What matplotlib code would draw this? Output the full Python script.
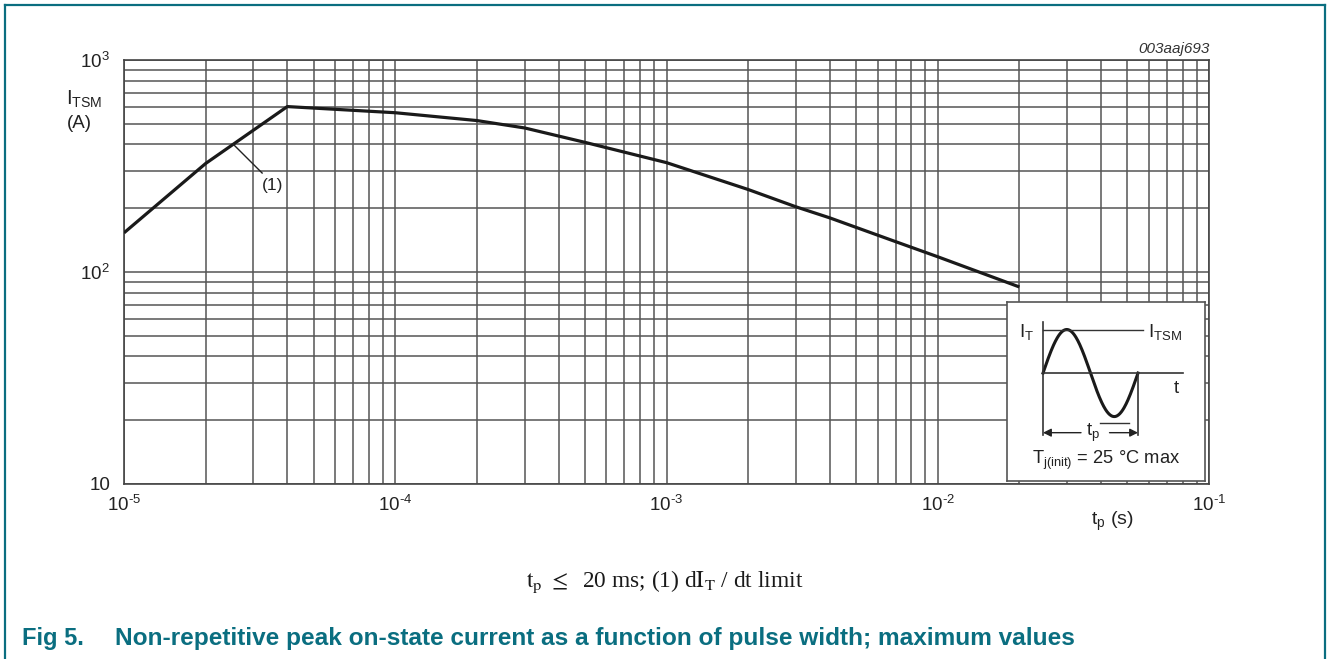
import numpy as np
import matplotlib
matplotlib.use("Agg")
import matplotlib.pyplot as plt
from matplotlib.ticker import LogLocator, NullFormatter
from matplotlib.lines import Line2D

plt.rcParams["font.family"] = ["Liberation Sans", "DejaVu Sans"]
plt.rcParams["mathtext.fontset"] = "custom"
plt.rcParams["mathtext.rm"] = "Liberation Sans"
plt.rcParams["mathtext.it"] = "Liberation Sans:italic"
plt.rcParams["mathtext.bf"] = "Liberation Sans:bold"

# data
tp = [1e-5, 2e-5, 4e-5, 1e-4, 2e-4, 3e-4, 5e-4, 1e-3, 2e-3, 3e-3, 4e-3, 7e-3, 1e-2, 2e-2]
itsm = [153, 325, 603, 564, 518, 478, 409, 328, 245, 203, 180, 139, 118, 85]

x_ticks = [1e-5, 1e-4, 1e-3, 1e-2, 1e-1]
x_ticklabels = [r"$10^{\text{-5}}$", r"$10^{\text{-4}}$", r"$10^{\text{-3}}$",
                r"$10^{\text{-2}}$", r"$10^{\text{-1}}$"]
y_ticks = [10, 100, 1000]
y_ticklabels = ["10", r"$10^{2}$", r"$10^{3}$"]

W, H = 1327, 659
TEAL = "#0a6e80"
GRID = "#555555"


def fx(x):
    return x / W


def fy(y):
    return 1 - y / H


fig = plt.figure(figsize=(W / 100, H / 100), dpi=100)
fig.patch.set_facecolor("white")

# ---- main chart
ax = fig.add_axes([fx(124), fy(484), (1209 - 124) / W, (484 - 60) / H])
ax.set_xscale("log")
ax.set_yscale("log")
ax.set_xlim(1e-5, 1e-1)
ax.set_ylim(10, 1000)
ax.xaxis.set_minor_locator(LogLocator(base=10, subs=np.arange(2, 10)))
ax.yaxis.set_minor_locator(LogLocator(base=10, subs=np.arange(2, 10)))
ax.xaxis.set_minor_formatter(NullFormatter())
ax.yaxis.set_minor_formatter(NullFormatter())
ax.set_xticks(x_ticks)
ax.set_xticklabels(x_ticklabels)
ax.set_yticks(y_ticks)
ax.set_yticklabels(y_ticklabels)
ax.tick_params(which="both", length=0, labelsize=13.5, colors="#222222")
ax.tick_params(axis="x", pad=8)
ax.tick_params(axis="y", pad=10)
ax.grid(True, which="both", color=GRID, lw=1.1)
for s in ax.spines.values():
    s.set_color("#444444")
    s.set_linewidth(1.2)

ax.plot(tp, itsm, color="#1a1a1a", lw=2.3, solid_capstyle="butt", zorder=3)

# (1) marker for the dI/dt limit part
ax.plot([2.52e-5, 3.23e-5], [402, 293], color="#222222", lw=1.0, zorder=3)
ax.text(3.54e-5, 255, "(1)", fontsize=12.5, color="#222222",
        ha="center", va="center")

fig.text(fx(102), fy(99), r"I$_{\mathrm{TSM}}$", fontsize=14.5, ha="right",
         va="center", color="#222222")
fig.text(fx(92), fy(123), "(A)", fontsize=13.5, ha="right", va="center",
         color="#222222")
fig.text(fx(1112), fy(521), r"t$_{\mathrm{p}}$ (s)", fontsize=14, ha="center",
         va="center", color="#222222")
fig.text(fx(1210), fy(49), "003aaj693", fontsize=11, style="italic",
         ha="right", va="center", color="#333333")

# ---- inset sketch of the pulse (one sine period = 1 unit)
ax_in = fig.add_axes([fx(1007), fy(481), (1205 - 1007) / W, (481 - 302) / H])
ax_in.set_xlim(-0.379, 1.705)
ax_in.set_ylim(-2.48, 1.632)
ax_in.set_xticks([])
ax_in.set_yticks([])
ax_in.set_facecolor("white")
for s in ax_in.spines.values():
    s.set_color("#555555")
    s.set_linewidth(1.2)

t = np.linspace(0, 1, 200)
ax_in.plot(t, np.sin(2 * np.pi * t), color="#1a1a1a", lw=2.2)
ax_in.plot([0, 0], [-1.43, 1.18], color="#333333", lw=1.2)
ax_in.plot([0, 1.47], [0, 0], color="#333333", lw=1.2)
ax_in.plot([0, 1.05], [1, 1], color="#333333", lw=1.0)
ax_in.plot([1, 1], [0, -1.43], color="#333333", lw=1.2)
ax_in.plot([0.6, 0.9], [-1.15, -1.15], color="#333333", lw=1.0)
ax_in.annotate("", xy=(0, -1.37), xytext=(0.4, -1.37),
               arrowprops=dict(arrowstyle="-|>", color="#222222", lw=1.0,
                               mutation_scale=12, shrinkA=0, shrinkB=0))
ax_in.annotate("", xy=(1, -1.37), xytext=(0.7, -1.37),
               arrowprops=dict(arrowstyle="-|>", color="#222222", lw=1.0,
                               mutation_scale=12, shrinkA=0, shrinkB=0))
ax_in.text(0.53, -1.38, r"t$_{\mathrm{p}}$", fontsize=13.5, ha="center",
           va="center", color="#222222")
ax_in.text(-0.17, 0.95, r"I$_{\mathrm{T}}$", fontsize=13.5, ha="center",
           va="center", color="#222222")
ax_in.text(1.1, 0.95, r"I$_{\mathrm{TSM}}$", fontsize=13.5, ha="left",
           va="center", color="#222222")
ax_in.text(1.4, -0.36, "t", fontsize=13.5, ha="center", va="center",
           color="#222222")
ax_in.text(0.67, -2.0, r"T$_{\mathrm{j(init)}}$ = 25 °C max", fontsize=13.2,
           ha="center", va="center", color="#222222")

# ---- captions
fig.text(fx(665), fy(582),
         r"$\mathrm{t_p}\ \leq$  20 ms; (1) d$\mathrm{I_T}$ / dt limit",
         fontsize=16.8, family=["Liberation Serif", "DejaVu Serif"],
         math_fontfamily="stix", ha="center", va="center", color="#1a1a1a")
fig.text(fx(22), fy(639), "Fig 5.", fontsize=17, weight="bold",
         color=TEAL, ha="left", va="center")
fig.text(fx(115), fy(639),
         "Non-repetitive peak on-state current as a function of pulse width; maximum values",
         fontsize=17.6, weight="bold", color=TEAL, ha="left", va="center")

# teal frame, open at the bottom
for xs, ys in [([5, 5], [659, 5]), ([5, 1325], [5, 5]), ([1325, 1325], [5, 659])]:
    fig.add_artist(Line2D([fx(v) for v in xs], [fy(v) for v in ys],
                          color=TEAL, lw=1.6))

fig.savefig("out.png", dpi=100)
